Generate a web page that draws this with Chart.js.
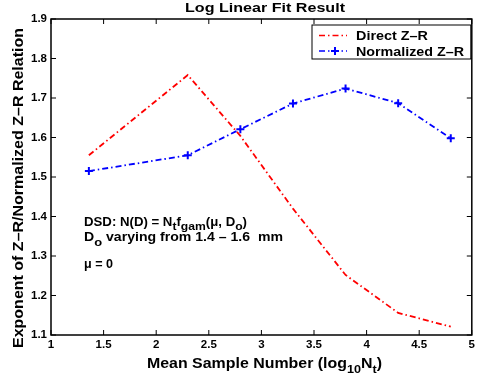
<!DOCTYPE html>
<html>
<head>
<meta charset="utf-8">
<script src="https://cdn.jsdelivr.net/npm/chart.js@4/dist/chart.umd.min.js"></script>
<style>
  html, body { margin: 0; padding: 0; background: #fff; }
  #wrap { width: 478px; height: 381px; }
</style>
</head>
<body>
<div id="wrap"><canvas id="fitChart"></canvas></div>
<script>
// valeurs
const sampleNumbers = [1.36, 2.30, 2.80, 3.30, 3.80, 4.30, 4.80];
const directZR = [1.555, 1.758, 1.604, 1.420, 1.252, 1.156, 1.121];
const normalizedZR = [1.515, 1.555, 1.621, 1.686, 1.724, 1.687, 1.598];
const xTicks = [1, 1.5, 2, 2.5, 3, 3.5, 4, 4.5, 5];
const yTicks = [1.1, 1.2, 1.3, 1.4, 1.5, 1.6, 1.7, 1.8, 1.9];

const FONT = "Liberation Sans, Arial, Helvetica, sans-serif";
const dashDot = [6, 3, 1.5, 3];

function toPoints(xs, ys) {
  return xs.map((x, i) => ({ x, y: ys[i] }));
}

// texte (avec indices) étiré à une largeur donnée
function drawRich(ctx, parts, left, base, o) {
  const font = p => `bold ${p.sub ? o.subSize : o.size}px ${FONT}`;
  let total = 0;
  parts.forEach(p => { ctx.font = font(p); total += ctx.measureText(p.t).width; });
  const k = o.width ? o.width / total : 1;
  ctx.save();
  ctx.translate(left, base);
  ctx.scale(k, 1);
  ctx.textAlign = "left";
  ctx.textBaseline = "alphabetic";
  let cx = 0;
  parts.forEach(p => {
    ctx.font = font(p);
    ctx.fillText(p.t, cx, p.sub ? o.subOff : 0);
    cx += ctx.measureText(p.t).width;
  });
  ctx.restore();
}

const decorations = {
  id: "decorations",
  afterDraw(chart) {
    const { ctx, chartArea: a, scales } = chart;
    ctx.save();
    ctx.strokeStyle = "#000";
    ctx.fillStyle = "#000";

    // cadre
    ctx.lineWidth = 1.5;
    ctx.strokeRect(a.left, a.top, a.right - a.left, a.bottom - a.top);

    // graduations vers l'intérieur
    ctx.lineWidth = 1;
    ctx.beginPath();
    xTicks.forEach(v => {
      const px = scales.x.getPixelForValue(v);
      ctx.moveTo(px, a.bottom); ctx.lineTo(px, a.bottom - 5);
      ctx.moveTo(px, a.top); ctx.lineTo(px, a.top + 5);
    });
    yTicks.forEach(v => {
      const py = scales.y.getPixelForValue(v);
      ctx.moveTo(a.left, py); ctx.lineTo(a.left + 5, py);
      ctx.moveTo(a.right, py); ctx.lineTo(a.right - 5, py);
    });
    ctx.stroke();

    // titre
    drawRich(ctx, [{ t: "Log Linear Fit Result" }], 185, 12, { size: 13.5, width: 160 });

    // titre axe y
    ctx.save();
    ctx.translate(23, 188);
    ctx.rotate(-Math.PI / 2);
    ctx.font = `bold 15.5px ${FONT}`;
    ctx.textAlign = "center";
    ctx.textBaseline = "alphabetic";
    const yTitle = "Exponent of Z\u2013R/Normalized Z\u2013R Relation";
    const yk = 320 / ctx.measureText(yTitle).width;
    ctx.scale(yk, 1);
    ctx.fillText(yTitle, 0, 0);
    ctx.restore();

    // titre axe x
    drawRich(ctx, [
      { t: "Mean Sample Number (log" }, { t: "10", sub: true },
      { t: "N" }, { t: "t", sub: true }, { t: ")" }
    ], 147, 368, { size: 14.5, subSize: 11.5, subOff: 5, width: 235 });

    // annotations
    drawRich(ctx, [
      { t: "DSD: N(D) = N" }, { t: "t", sub: true }, { t: "f" },
      { t: "gam", sub: true }, { t: "(\u03bc, D" }, { t: "o", sub: true }, { t: ")" }
    ], 84, 226, { size: 12.5, subSize: 11.5, subOff: 4, width: 163 });
    drawRich(ctx, [
      { t: "D" }, { t: "o", sub: true }, { t: " varying from 1.4 \u2013 1.6  mm" }
    ], 84, 241, { size: 12.5, subSize: 11.5, subOff: 5, width: 199 });
    drawRich(ctx, [{ t: "\u03bc = 0" }], 84, 268, { size: 12.5, width: 29 });

    // légende
    const lx = 312, ly = 25, lw = a.right - 1 - lx, lh = 34;
    ctx.fillStyle = "#fff";
    ctx.fillRect(lx, ly, lw, lh);
    ctx.lineWidth = 1;
    ctx.strokeStyle = "#000";
    ctx.strokeRect(lx, ly, lw, lh);
    const rows = [
      { label: "Direct Z\u2013R", color: "#ff0000", marker: false, y: ly + 10.5, w: 72 },
      { label: "Normalized Z\u2013R", color: "#0000ff", marker: true, y: ly + 26, w: 108 }
    ];
    rows.forEach(r => {
      ctx.strokeStyle = r.color;
      ctx.lineWidth = 1.6;
      ctx.setLineDash(dashDot);
      ctx.beginPath();
      ctx.moveTo(319, r.y); ctx.lineTo(347, r.y);
      ctx.stroke();
      ctx.setLineDash([]);
      if (r.marker) {
        ctx.lineWidth = 2;
        ctx.beginPath();
        ctx.moveTo(331, r.y); ctx.lineTo(339, r.y);
        ctx.moveTo(335, r.y - 4); ctx.lineTo(335, r.y + 4);
        ctx.stroke();
      }
      ctx.fillStyle = "#000";
      drawRich(ctx, [{ t: r.label }], 356, r.y + 4.5, { size: 12, width: r.w });
    });
    ctx.restore();
  }
};

new Chart(document.getElementById("fitChart"), {
  type: "scatter",
  data: {
    datasets: [
      {
        label: "Direct Z-R",
        data: toPoints(sampleNumbers, directZR),
        showLine: true,
        borderColor: "#ff0000",
        borderWidth: 1.8,
        borderDash: dashDot,
        pointRadius: 0,
        tension: 0
      },
      {
        label: "Normalized Z-R",
        data: toPoints(sampleNumbers, normalizedZR),
        showLine: true,
        borderColor: "#0000ff",
        borderWidth: 1.8,
        borderDash: dashDot,
        pointStyle: "cross",
        pointRadius: 4,
        pointBorderWidth: 2,
        pointBorderColor: "#0000ff",
        tension: 0
      }
    ]
  },
  options: {
    responsive: true,
    maintainAspectRatio: false,
    animation: false,
    layout: { padding: { top: 19, right: 5, left: 0, bottom: 0 } },
    scales: {
      x: {
        type: "linear",
        min: 1,
        max: 5,
        afterFit: s => { s.height = 46; },
        afterBuildTicks: s => { s.ticks = xTicks.map(v => ({ value: v })); },
        grid: { display: false, drawTicks: false },
        border: { display: false },
        ticks: {
          color: "#000",
          padding: 3,
          maxRotation: 0,
          font: { family: FONT, size: 11.5, weight: "bold" },
          callback: v => String(v)
        }
      },
      y: {
        min: 1.1,
        max: 1.9,
        afterFit: s => { s.width = 51; },
        afterBuildTicks: s => { s.ticks = yTicks.map(v => ({ value: v })); },
        grid: { display: false, drawTicks: false },
        border: { display: false },
        ticks: {
          color: "#000",
          padding: 4,
          font: { family: FONT, size: 11.5, weight: "bold" },
          callback: v => v.toFixed(1)
        }
      }
    },
    plugins: {
      legend: { display: false },
      title: { display: false },
      tooltip: { enabled: false }
    }
  },
  plugins: [decorations]
});
</script>
</body>
</html>
